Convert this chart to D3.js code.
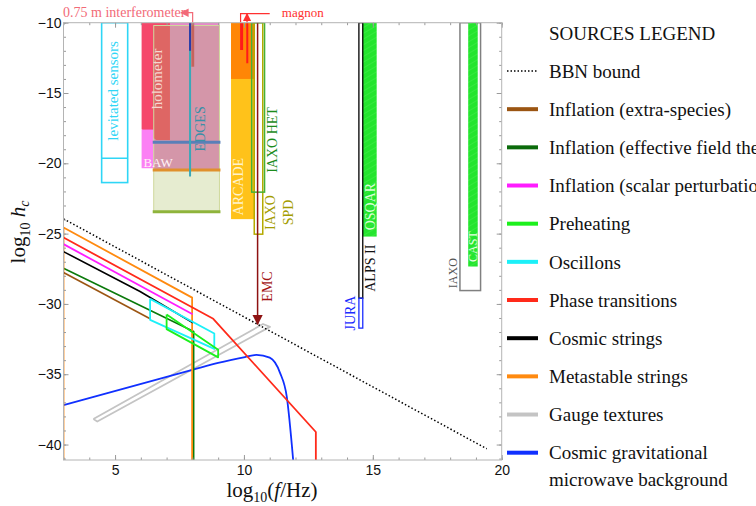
<!DOCTYPE html>
<html>
<head>
<meta charset="utf-8">
<script src="https://cdn.jsdelivr.net/npm/d3@7"></script>
<style>
  body { margin: 0; background: #fff; }
  svg text { font-family: "Liberation Serif", "DejaVu Serif", serif; }
  .axis .tick text { font-family: "Liberation Sans", Arial, sans-serif; font-size: 14px; fill: #111; }
  .axis .tick line { stroke: #9a9a9a; }
  .axis path.domain { display: none; }
</style>
</head>
<body>
<svg id="chart" width="756" height="506"></svg>
<script>
// ---- data (log10 f/Hz, log10 h_c) ----
var xTicks = [5, 10, 15, 20];
var yTicks = [-40, -35, -30, -25, -20, -15, -10];

var legendLabels = ["BBN bound", "Inflation (extra-species)", "Inflation (effective field theory)",
  "Inflation (scalar perturbations)", "Preheating", "Oscillons", "Phase transitions",
  "Cosmic strings", "Metastable strings", "Gauge textures",
  "Cosmic gravitational|microwave background"];

var bbnBound = [[3, -23.95], [19.42, -40.3]];
var inflationExtra = [[3, -27.77], [6.36, -31.06]];
var inflationEFT = [[3, -27.46], [8.05, -31.96], [8.05, -41.1]];
var inflationScalar = [[3, -25.75], [8.01, -30.73]];
var preheating = [[7.0, -30.75], [9.0, -33.26], [9.0, -33.8], [7.0, -31.79], [7.0, -30.75]];
var oscillons = [[6.36, -29.64], [8.85, -32.1], [8.85, -33.2], [6.36, -31.13], [6.36, -29.64]];
var phaseTransitions = [[3, -25.28], [8.81, -31.06], [12.79, -39.11], [12.79, -41.1]];
var cosmicStrings = [[3, -26.28], [5.97, -29.12], [8.02, -31.35]];
var metastableStrings = [[3, -41.1], [3, -24.57], [7.99, -29.55], [7.99, -41.1]];
var gaugeTextures = [[4.16, -38.19], [10.74, -31.43], [11.01, -31.63], [4.31, -38.36], [4.16, -38.19]];
var cgmb = [[3, -37.19], [8.03, -34.68], [9.0, -34.2], [10.04, -33.78], [10.49, -33.62],
  [11.0, -33.82], [11.4, -34.9], [11.66, -36.58], [11.91, -41.1]];

// detector regions: [fmin, fmax, hmin, hmax]
var levitated = [4.48, 5.49, -21.37, -10];
var levitatedStep = -19.64;
var holometer = [[6.03, -10], [7.13, -10], [7.13, -18.34], [6.6, -18.34], [6.03, -17.58]];
var baw = [6.03, 6.5, -20.35, -17.6];
var pinkBand = [6.5, 9.05, -20.47, -10];
var greenBand = [6.5, 9.05, -23.45, -10.2];
var bandLines = [-18.5, -20.47, -23.45];
var edges = [7.91, -20.94, -10];
var edgesTop = [7.91, -12.0, -10];
var interferometer = [7.96, 8.07, -13.13, -10];
var arcade = [9.5, 10.43, -23.97, -10];
var arcadeTop = [9.5, 10.43, -14.0, -10];
var magnonBars = [[9.91, -11.94], [10.13, -12.89]];
var iaxoHet = [10.30, 10.80, -22.05, -10];
var iaxoSpd = [10.40, 10.73, -25.04, -10];
var alps = [14.46, 14.61, -29.59, -10];
var jura = [14.46, 14.61, -31.72, -29.59];
var osqar = [14.61, 15.15, -25.21, -10];
var iaxo = [18.38, 19.18, -29.05, -10];
var cast = [18.70, 19.07, -27.34, -10];
var emc = [10.53, -10, -31.44];

// rotated labels: [text, f, h]
var detectorLabels = [
  ["levitated sensors", 4.93, -14.85], ["holometer", 6.62, -14.0], ["EDGES", 8.29, -17.55],
  ["ARCADE", 9.78, -21.66], ["IAXO HET", 11.08, -18.34], ["IAXO", 11.01, -23.5],
  ["SPD", 11.72, -23.5], ["EMC", 10.88, -28.76], ["ALPS II", 14.89, -27.46],
  ["JURA", 14.11, -30.65], ["OSQAR", 14.89, -23.08], ["IAXO", 18.12, -27.81], ["CAST", 18.87, -25.92]
];

// ---- drawing ----
var svg = d3.select("#chart");
var x = d3.scaleLinear().domain([3, 20]).range([63.5, 501.7]);
var y = d3.scaleLinear().domain([-41.1, -10]).range([460, 22.7]);

var defs = svg.append("defs");
defs.append("clipPath").attr("id", "plot")
  .append("rect").attr("x", x(3)).attr("y", y(-10))
  .attr("width", x(20) - x(3)).attr("height", y(-41.1) - y(-10));

function marker(id, color) {
  defs.append("marker").attr("id", id).attr("viewBox", "0 0 10 10")
    .attr("refX", 9).attr("refY", 5).attr("markerWidth", 7).attr("markerHeight", 7)
    .attr("orient", "auto-start-reverse")
    .append("path").attr("d", "M0,0L10,5L0,10z").attr("fill", color);
}
marker("arrEmc", "#8e1212");
marker("arrInt", "#f26a78");
marker("arrMag", "#ff3030");

var hatch = defs.append("pattern").attr("id", "hatch").attr("patternUnits", "userSpaceOnUse")
  .attr("width", 5).attr("height", 5).attr("patternTransform", "rotate(60)");
hatch.append("rect").attr("width", 5).attr("height", 5).attr("fill", "#24e52e");
hatch.append("line").attr("x1", 0).attr("y1", 0).attr("x2", 0).attr("y2", 5)
  .attr("stroke", "#44ec4a").attr("stroke-width", 1.2);

function box(g, d) {
  return g.append("rect")
    .attr("x", x(d[0])).attr("y", y(d[3]))
    .attr("width", x(d[1]) - x(d[0])).attr("height", y(d[2]) - y(d[3]));
}

var line = d3.line().x(function(d) { return x(d[0]); }).y(function(d) { return y(d[1]); });

var regions = svg.append("g").attr("clip-path", "url(#plot)");

box(regions, levitated).attr("fill", "none").attr("stroke", "#2fd6f6").attr("stroke-width", 1.6);
regions.append("line").attr("x1", x(levitated[0])).attr("x2", x(levitated[1]))
  .attr("y1", y(levitatedStep)).attr("y2", y(levitatedStep))
  .attr("stroke", "#2fd6f6").attr("stroke-width", 1.6);

box(regions, pinkBand).attr("fill", "rgb(230,138,202)");
regions.append("path").attr("d", line(holometer) + "Z").attr("fill", "#f5486b");
box(regions, baw).attr("fill", "#fb80f4");
box(regions, greenBand).attr("fill", "rgb(163,185,81)").attr("fill-opacity", 0.27)
  .attr("stroke", "#cfd89c").attr("stroke-width", 1);

var bandColors = ["#5a7fb8", "#e0902c", "#8fb43c"];
bandLines.forEach(function(v, i) {
  regions.append("line").attr("x1", x(pinkBand[0]) - 1).attr("x2", x(pinkBand[1]) + 1)
    .attr("y1", y(v)).attr("y2", y(v)).attr("stroke", bandColors[i]).attr("stroke-width", 3);
});

box(regions, interferometer).attr("fill", "#c25a50").attr("fill-opacity", 0.85);
regions.append("line").attr("x1", x(edges[0])).attr("x2", x(edges[0]))
  .attr("y1", y(edges[1])).attr("y2", y(edges[2])).attr("stroke", "#3aa8b8").attr("stroke-width", 2);
regions.append("line").attr("x1", x(edgesTop[0])).attr("x2", x(edgesTop[0]))
  .attr("y1", y(edgesTop[1])).attr("y2", y(edgesTop[2])).attr("stroke", "#2a3aa8").attr("stroke-width", 2);

box(regions, arcade).attr("fill", "#ffc21a");
box(regions, arcadeTop).attr("fill", "#ff8606");
magnonBars.forEach(function(d, i) {
  regions.append("line").attr("x1", x(d[0])).attr("x2", x(d[0]))
    .attr("y1", y(-10)).attr("y2", y(d[1])).attr("stroke", "#ff1a1a").attr("stroke-width", i ? 2 : 3);
});
box(regions, iaxoSpd).attr("fill", "none").attr("stroke", "#b4aa00").attr("stroke-width", 1.5);
box(regions, iaxoHet).attr("fill", "none").attr("stroke", "#46b236").attr("stroke-width", 1.5);

box(regions, osqar).attr("fill", "url(#hatch)");
box(regions, alps).attr("fill", "none").attr("stroke", "#000").attr("stroke-width", 1.3);
box(regions, jura).attr("fill", "none").attr("stroke", "#1a2cff").attr("stroke-width", 1.3);
box(regions, iaxo).attr("fill", "none").attr("stroke", "#808080").attr("stroke-width", 1.5);
box(regions, cast).attr("fill", "url(#hatch)");

// source curves
var curves = svg.append("g").attr("clip-path", "url(#plot)").attr("fill", "none")
  .attr("stroke-linejoin", "round");
var seriesList = [
  [gaugeTextures, "#c4c4c4", 1.8],
  [cgmb, "#1030ff", 1.8],
  [inflationEFT, "#0b7a0b", 1.6],
  [metastableStrings, "#ff8a10", 1.8],
  [phaseTransitions, "#ff2a1a", 1.8],
  [inflationScalar, "#ff1cff", 1.8],
  [cosmicStrings, "#000", 1.6],
  [inflationExtra, "#9b5512", 1.6],
  [oscillons, "#1cf0f8", 1.8],
  [preheating, "#1cf01c", 1.8]
];
seriesList.forEach(function(s) {
  var gen = s[0] === cgmb ? line.curve(d3.curveMonotoneX) : line.curve(d3.curveLinear);
  curves.append("path").attr("d", gen(s[0])).attr("stroke", s[1]).attr("stroke-width", s[2]);
});
line.curve(d3.curveLinear);
curves.append("path").attr("d", line(bbnBound)).attr("stroke", "#000")
  .attr("stroke-width", 1.5).attr("stroke-dasharray", "1.5,2.2");

// EMC arrow
svg.append("line").attr("x1", x(emc[0])).attr("x2", x(emc[0]))
  .attr("y1", y(emc[1])).attr("y2", y(emc[2]))
  .attr("stroke", "#8e1212").attr("stroke-width", 1.5).attr("marker-end", "url(#arrEmc)");

// labels inside the plot
var labelColors = ["#2fd6f6", "#f6d6d0", "#3a8fa8", "#fff3cc", "#1c8c1c", "#a39c00", "#a39c00",
  "#a31414", "#111", "#1a2cff", "#d8ffd4", "#555", "#e4ffe0"];
var labelSizes = [15, 15, 14, 14, 14, 14, 14, 14, 14, 14, 14, 12, 12];
detectorLabels.forEach(function(d, i) {
  svg.append("text")
    .attr("transform", "translate(" + x(d[1]) + "," + y(d[2]) + ") rotate(-90)")
    .attr("text-anchor", "middle").attr("dy", "0.35em")
    .attr("font-size", labelSizes[i]).attr("fill", labelColors[i]).text(d[0]);
});
svg.append("text").attr("x", x(6.1)).attr("y", y(-20.26))
  .attr("font-size", 13).attr("fill", "#fff2f6").text("BAW");

// top annotations
var yTop = y(-10);
svg.append("text").attr("x", x(3) - 0.5).attr("y", yTop - 6)
  .attr("font-size", 14).attr("fill", "#f26a78").text("0.75 m interferometer");
svg.append("path")
  .attr("d", "M" + x(8.01) + "," + yTop + "V" + (yTop - 10) + "H" + x(7.56))
  .attr("fill", "none").attr("stroke", "#f26a78").attr("stroke-width", 1.2)
  .attr("marker-end", "url(#arrInt)");
svg.append("path")
  .attr("d", "M" + x(9.87) + "," + yTop + "V" + (yTop - 9) + "H" + x(11.0)
    + "M" + x(10.12) + "," + yTop + "V" + (yTop - 9))
  .attr("fill", "none").attr("stroke", "#ff3030").attr("stroke-width", 1.2)
  .attr("marker-end", "url(#arrMag)");
svg.append("text").attr("x", x(11.47)).attr("y", yTop - 6)
  .attr("font-family", "'Liberation Sans', Arial, sans-serif")
  .attr("font-size", 13).attr("fill", "#ff3030").text("magnon");

// frame and ticks
var allX = d3.range(3, 21), allY = d3.range(-41, -9);
var frame = svg.append("g");
frame.append("g").attr("class", "axis").attr("transform", "translate(0," + y(-41.1) + ")")
  .call(d3.axisBottom(x).tickValues(xTicks).tickSize(-5).tickPadding(5).tickFormat(d3.format("d")));
frame.append("g").attr("class", "axis").attr("transform", "translate(0," + y(-41.1) + ")")
  .call(d3.axisBottom(x).tickValues(allX).tickSize(-2.5).tickFormat(""));
frame.append("g").attr("class", "axis").attr("transform", "translate(0," + y(-10) + ")")
  .call(d3.axisTop(x).tickValues(allX).tickSize(-2.5).tickFormat(""));
frame.append("g").attr("class", "axis").attr("transform", "translate(0," + y(-10) + ")")
  .call(d3.axisTop(x).tickValues(xTicks).tickSize(-5).tickFormat(""));
frame.append("g").attr("class", "axis").attr("transform", "translate(" + x(3) + ",0)")
  .call(d3.axisLeft(y).tickValues(yTicks).tickSize(-5).tickPadding(2).tickFormat(d3.format("d")));
frame.append("g").attr("class", "axis").attr("transform", "translate(" + x(3) + ",0)")
  .call(d3.axisLeft(y).tickValues(allY).tickSize(-2.5).tickFormat(""));
frame.append("g").attr("class", "axis").attr("transform", "translate(" + x(20) + ",0)")
  .call(d3.axisRight(y).tickValues(yTicks).tickSize(-5).tickFormat(""));
frame.append("g").attr("class", "axis").attr("transform", "translate(" + x(20) + ",0)")
  .call(d3.axisRight(y).tickValues(allY).tickSize(-2.5).tickFormat(""));
frame.append("rect").attr("x", x(3)).attr("y", y(-10))
  .attr("width", x(20) - x(3)).attr("height", y(-41.1) - y(-10))
  .attr("fill", "none").attr("stroke", "#b4b4b4").attr("stroke-width", 1);

// axis titles
var xt = svg.append("text").attr("x", 272).attr("y", 497).attr("text-anchor", "middle")
  .attr("font-size", 21).attr("fill", "#111");
xt.append("tspan").text("log");
xt.append("tspan").attr("font-size", 14).attr("dy", 5).text("10");
xt.append("tspan").attr("dy", -5).text("(");
xt.append("tspan").attr("font-style", "italic").text("f");
xt.append("tspan").text("/Hz)");

var yt = svg.append("text").attr("transform", "translate(25,232) rotate(-90)")
  .attr("text-anchor", "middle").attr("font-size", 21).attr("fill", "#111");
yt.append("tspan").text("log");
yt.append("tspan").attr("font-size", 14).attr("dy", 5).text("10");
yt.append("tspan").attr("dy", -5).text(" ");
yt.append("tspan").attr("font-style", "italic").text("h");
yt.append("tspan").attr("font-size", 14).attr("font-style", "italic").attr("dy", 4).text("c");

// legend
var legendColors = ["#000", "#9b5512", "#0b6b0b", "#ff1cff", "#1cf01c", "#1cf0f8", "#ff2a1a",
  "#000", "#ff8a10", "#c4c4c4", "#1030ff"];
var legend = svg.append("g").attr("font-size", 19).attr("fill", "#111");
legend.append("text").attr("x", 549).attr("y", 33.5).attr("dy", "0.35em").text("SOURCES LEGEND");
legendLabels.forEach(function(lab, i) {
  var cy = 71 + i * 38.17;
  legend.append("line").attr("x1", 507).attr("x2", 538).attr("y1", cy).attr("y2", cy)
    .attr("stroke", legendColors[i]).attr("stroke-width", i === 0 ? 1.5 : 4)
    .attr("stroke-dasharray", i === 0 ? "1.5,2" : null);
  var parts = lab.split("|");
  parts.forEach(function(p, j) {
    legend.append("text").attr("x", 549).attr("y", cy + j * 26.6).attr("dy", "0.35em").text(p);
  });
});
</script>
</body>
</html>
